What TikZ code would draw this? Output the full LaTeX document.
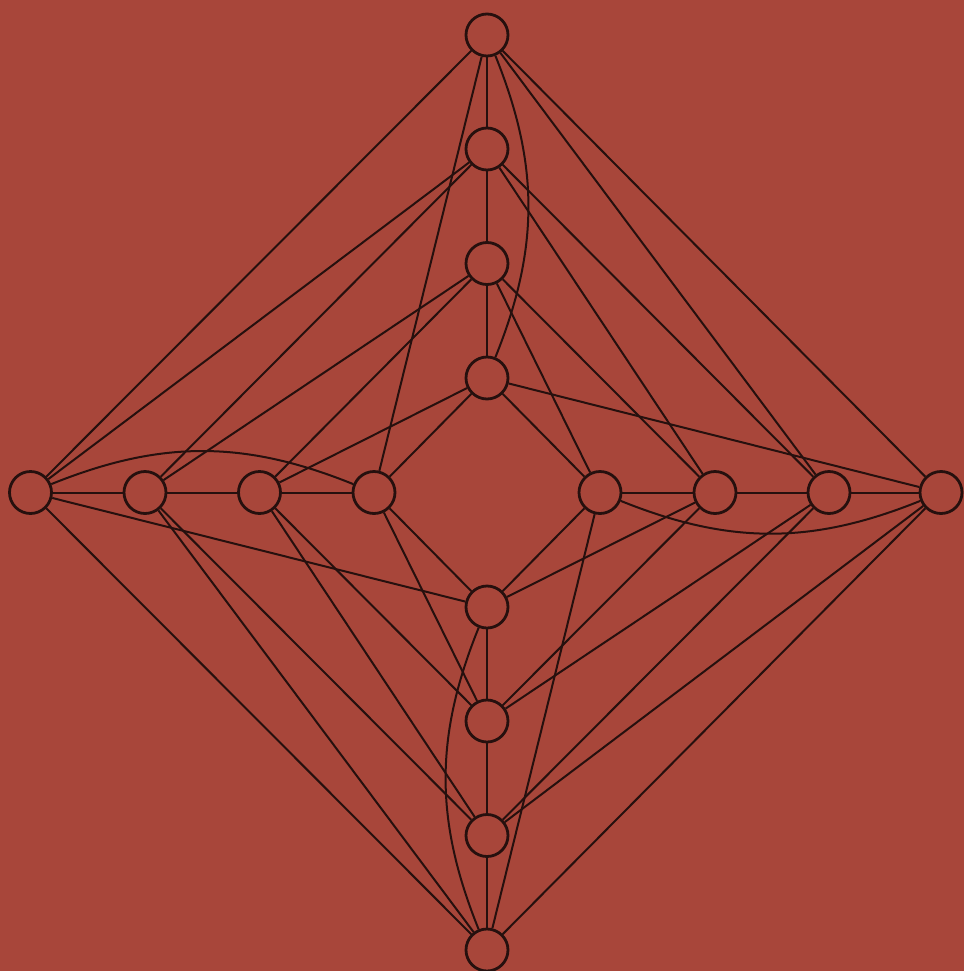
\documentclass[tikz,border=0pt]{standalone}
\usetikzlibrary{backgrounds}
\definecolor{bgred}{RGB}{168,70,58}
\definecolor{ink}{RGB}{38,16,14}
\begin{document}
\begin{tikzpicture}[x=0.75pt,y=-0.75pt,
  vtx/.style={circle,draw=ink,fill=bgred,line width=2.1pt,minimum size=31.5pt,inner sep=0pt},
  edge/.style={draw=ink,line width=1.5pt},
  loopedge/.style={draw=ink,line width=1.5pt,bend left=22}]
\useasboundingbox (0,0) rectangle (964,971);
% top ray
\node[vtx] (T0) at (487,35) {};
\node[vtx] (T1) at (487,149) {};
\node[vtx] (T2) at (487,263.5) {};
\node[vtx] (T3) at (487,378) {};
% bottom ray
\node[vtx] (B3) at (487,607) {};
\node[vtx] (B2) at (487,721) {};
\node[vtx] (B1) at (487,835.5) {};
\node[vtx] (B0) at (487,950) {};
% left ray
\node[vtx] (L0) at (30.5,492.5) {};
\node[vtx] (L1) at (145,492.5) {};
\node[vtx] (L2) at (259.5,492.5) {};
\node[vtx] (L3) at (374,492.5) {};
% right ray
\node[vtx] (R3) at (600,492.5) {};
\node[vtx] (R2) at (715,492.5) {};
\node[vtx] (R1) at (829,492.5) {};
\node[vtx] (R0) at (941,492.5) {};
\begin{scope}[on background layer]
\fill[bgred] (0,0) rectangle (964,971);
\foreach \X in {T,L,B,R}{
  \draw[edge] (\X0) -- (\X1);
  \draw[edge] (\X1) -- (\X2);
  \draw[edge] (\X2) -- (\X3);
  \draw[loopedge] (\X0) to (\X3);
}
\foreach \X/\Y in {T/L,L/B,B/R,R/T}{
  \draw[edge] (\X0) -- (\Y0);
  \draw[edge] (\X0) -- (\Y3);
  \draw[edge] (\X1) -- (\Y1);
  \draw[edge] (\X1) -- (\Y0);
  \draw[edge] (\X2) -- (\Y2);
  \draw[edge] (\X2) -- (\Y1);
  \draw[edge] (\X3) -- (\Y3);
  \draw[edge] (\X3) -- (\Y2);
}
\end{scope}
\end{tikzpicture}
\end{document}
